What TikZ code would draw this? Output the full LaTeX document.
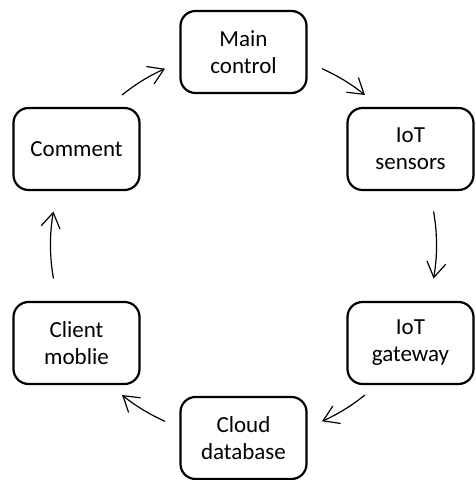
\documentclass[tikz,border=0pt]{standalone}
\usepackage{fontspec}
\setmainfont{Carlito}
\usetikzlibrary{arrows.meta,calc}
\begin{document}
\begin{tikzpicture}[x=1pt,y=1pt,
  box/.style={draw=black, line width=2.2pt, rounded corners=15pt, minimum width=126pt, minimum height=82pt,
    align=center, inner sep=0pt, font=\fontsize{23}{27}\selectfont},
  arr/.style={line width=1.2pt, -{Straight Barb[length=15pt,width=19pt,line width=1.2pt]}}]
\useasboundingbox (0,0) rectangle (475,480);
\node[box] (main) at (243.5,428) {Main\\control};
\node[box] (sens) at (410.5,331) {IoT\\sensors};
\node[box] (gate) at (410.5,137) {IoT\\gateway};
\node[box] (cloud) at (243.5,42) {Cloud\\database};
\node[box] (client) at (76.5,137) {Client\\moblie};
\node[box] (comm) at (76.5,331) {Comment};
\coordinate (c) at (243.5,235);
\coordinate (s1) at ($(c)+(129:193)$);
\coordinate (s2) at ($(c)+(66:193)$);
\coordinate (s3) at ($(c)+(10:193)$);
\coordinate (s4) at ($(c)+(-51:193)$);
\coordinate (s5) at ($(c)+(-114:193)$);
\coordinate (s6) at ($(c)+(190:193)$);
\draw[arr] (s1) arc[start angle=129, end angle=114, radius=193];
\draw[arr] (s2) arc[start angle=66, end angle=51, radius=193];
\draw[arr] (s3) arc[start angle=10, end angle=-10, radius=193];
\draw[arr] (s4) arc[start angle=-51, end angle=-66, radius=193];
\draw[arr] (s5) arc[start angle=-114, end angle=-129, radius=193];
\draw[arr] (s6) arc[start angle=190, end angle=170, radius=193];
\end{tikzpicture}
\end{document}
